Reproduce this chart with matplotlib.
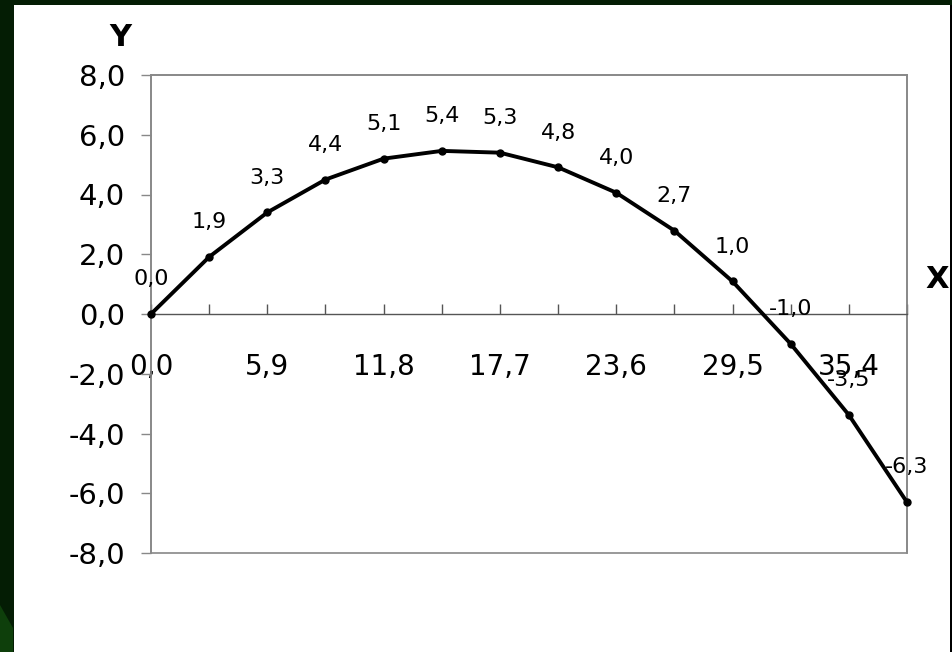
import matplotlib
matplotlib.use("Agg")
import matplotlib.pyplot as plt
from matplotlib.patches import Rectangle, Polygon

# ---- data ----
x_values = [0.0, 2.95, 5.9, 8.85, 11.8, 14.75, 17.7, 20.65, 23.6, 26.55, 29.5, 32.45, 35.4, 38.35]
# plotted positions
y_values = [0.0, 1.91, 3.40, 4.50, 5.20, 5.46, 5.40, 4.91, 4.06, 2.79, 1.09, -1.0, -3.38, -6.30]
# data labels as printed on the chart
point_labels = ["0,0", "1,9", "3,3", "4,4", "5,1", "5,4", "5,3", "4,8", "4,0", "2,7", "1,0",
                "-1,0", "-3,5", "-6,3"]
y_ticks = [8, 6, 4, 2, 0, -2, -4, -6, -8]
x_label_every = 2


def fmt(v):
    return f"{v:.1f}".replace(".", ",")


W, H = 952, 652
fig = plt.figure(figsize=(W / 100, H / 100), dpi=100)
fig.patch.set_facecolor("#041d04")


def fx(px):
    return px / W


def fy(py):
    return 1 - py / H


fig.patches.append(Polygon([(fx(0), fy(605)), (fx(13), fy(628)), (fx(13), fy(652)), (fx(0), fy(652))],
                           closed=True, transform=fig.transFigure, facecolor="#0e3f0b",
                           edgecolor="none", zorder=-5))
fig.patches.append(Rectangle((fx(14), 0), fx(936), fy(5), transform=fig.transFigure,
                             facecolor="white", edgecolor="none", zorder=-5))
fig.patches.append(Rectangle((fx(950), 0), fx(2), fy(5), transform=fig.transFigure,
                             facecolor="black", edgecolor="none", zorder=-5))

ax = fig.add_axes([fx(151), fy(553), fx(907 - 151), (553 - 75) / H])
ax.set_facecolor("white")

ax.plot(x_values, y_values, color="black", lw=2.8, marker="o", markersize=5, zorder=3,
        clip_on=False, solid_joinstyle="round")
for xv, yv, lab in zip(x_values, y_values, point_labels):
    ax.annotate(lab, (xv, yv), xytext=(0, 25), textcoords="offset points",
                ha="center", va="center", fontsize=16, color="black", zorder=4)

ax.set_xlim(x_values[0], x_values[-1])
ax.set_ylim(min(y_ticks), max(y_ticks))

ax.set_yticks(y_ticks)
ax.set_yticklabels([fmt(v) for v in y_ticks])
ax.set_xticks(x_values)
ax.set_xticklabels([fmt(v) if i % x_label_every == 0 else "" for i, v in enumerate(x_values)])

ax.spines["bottom"].set_position(("data", 0))
ax.spines["bottom"].set_color("#555555")
ax.spines["bottom"].set_linewidth(1.0)
for s in ["left", "top", "right"]:
    ax.spines[s].set_color("#888888")
    ax.spines[s].set_linewidth(1.2)
ax.add_patch(Rectangle((0, 0), 1, 1, transform=ax.transAxes, fill=False,
                       edgecolor="#888888", lw=1.2, clip_on=False, zorder=1))

ax.tick_params(axis="y", direction="out", length=7.2, width=1.0, color="#888888",
               labelsize=21, pad=11.5)
ax.tick_params(axis="x", direction="in", length=7.2, width=1.0, color="#555555",
               labelsize=20, pad=28)

fig.text(fx(120), fy(37), "Y", fontsize=22, fontweight="bold", ha="center", va="center")
fig.text(fx(937), fy(280), "X", fontsize=22, fontweight="bold", ha="center", va="center")

fig.savefig("out.png", dpi=100, facecolor=fig.get_facecolor())
